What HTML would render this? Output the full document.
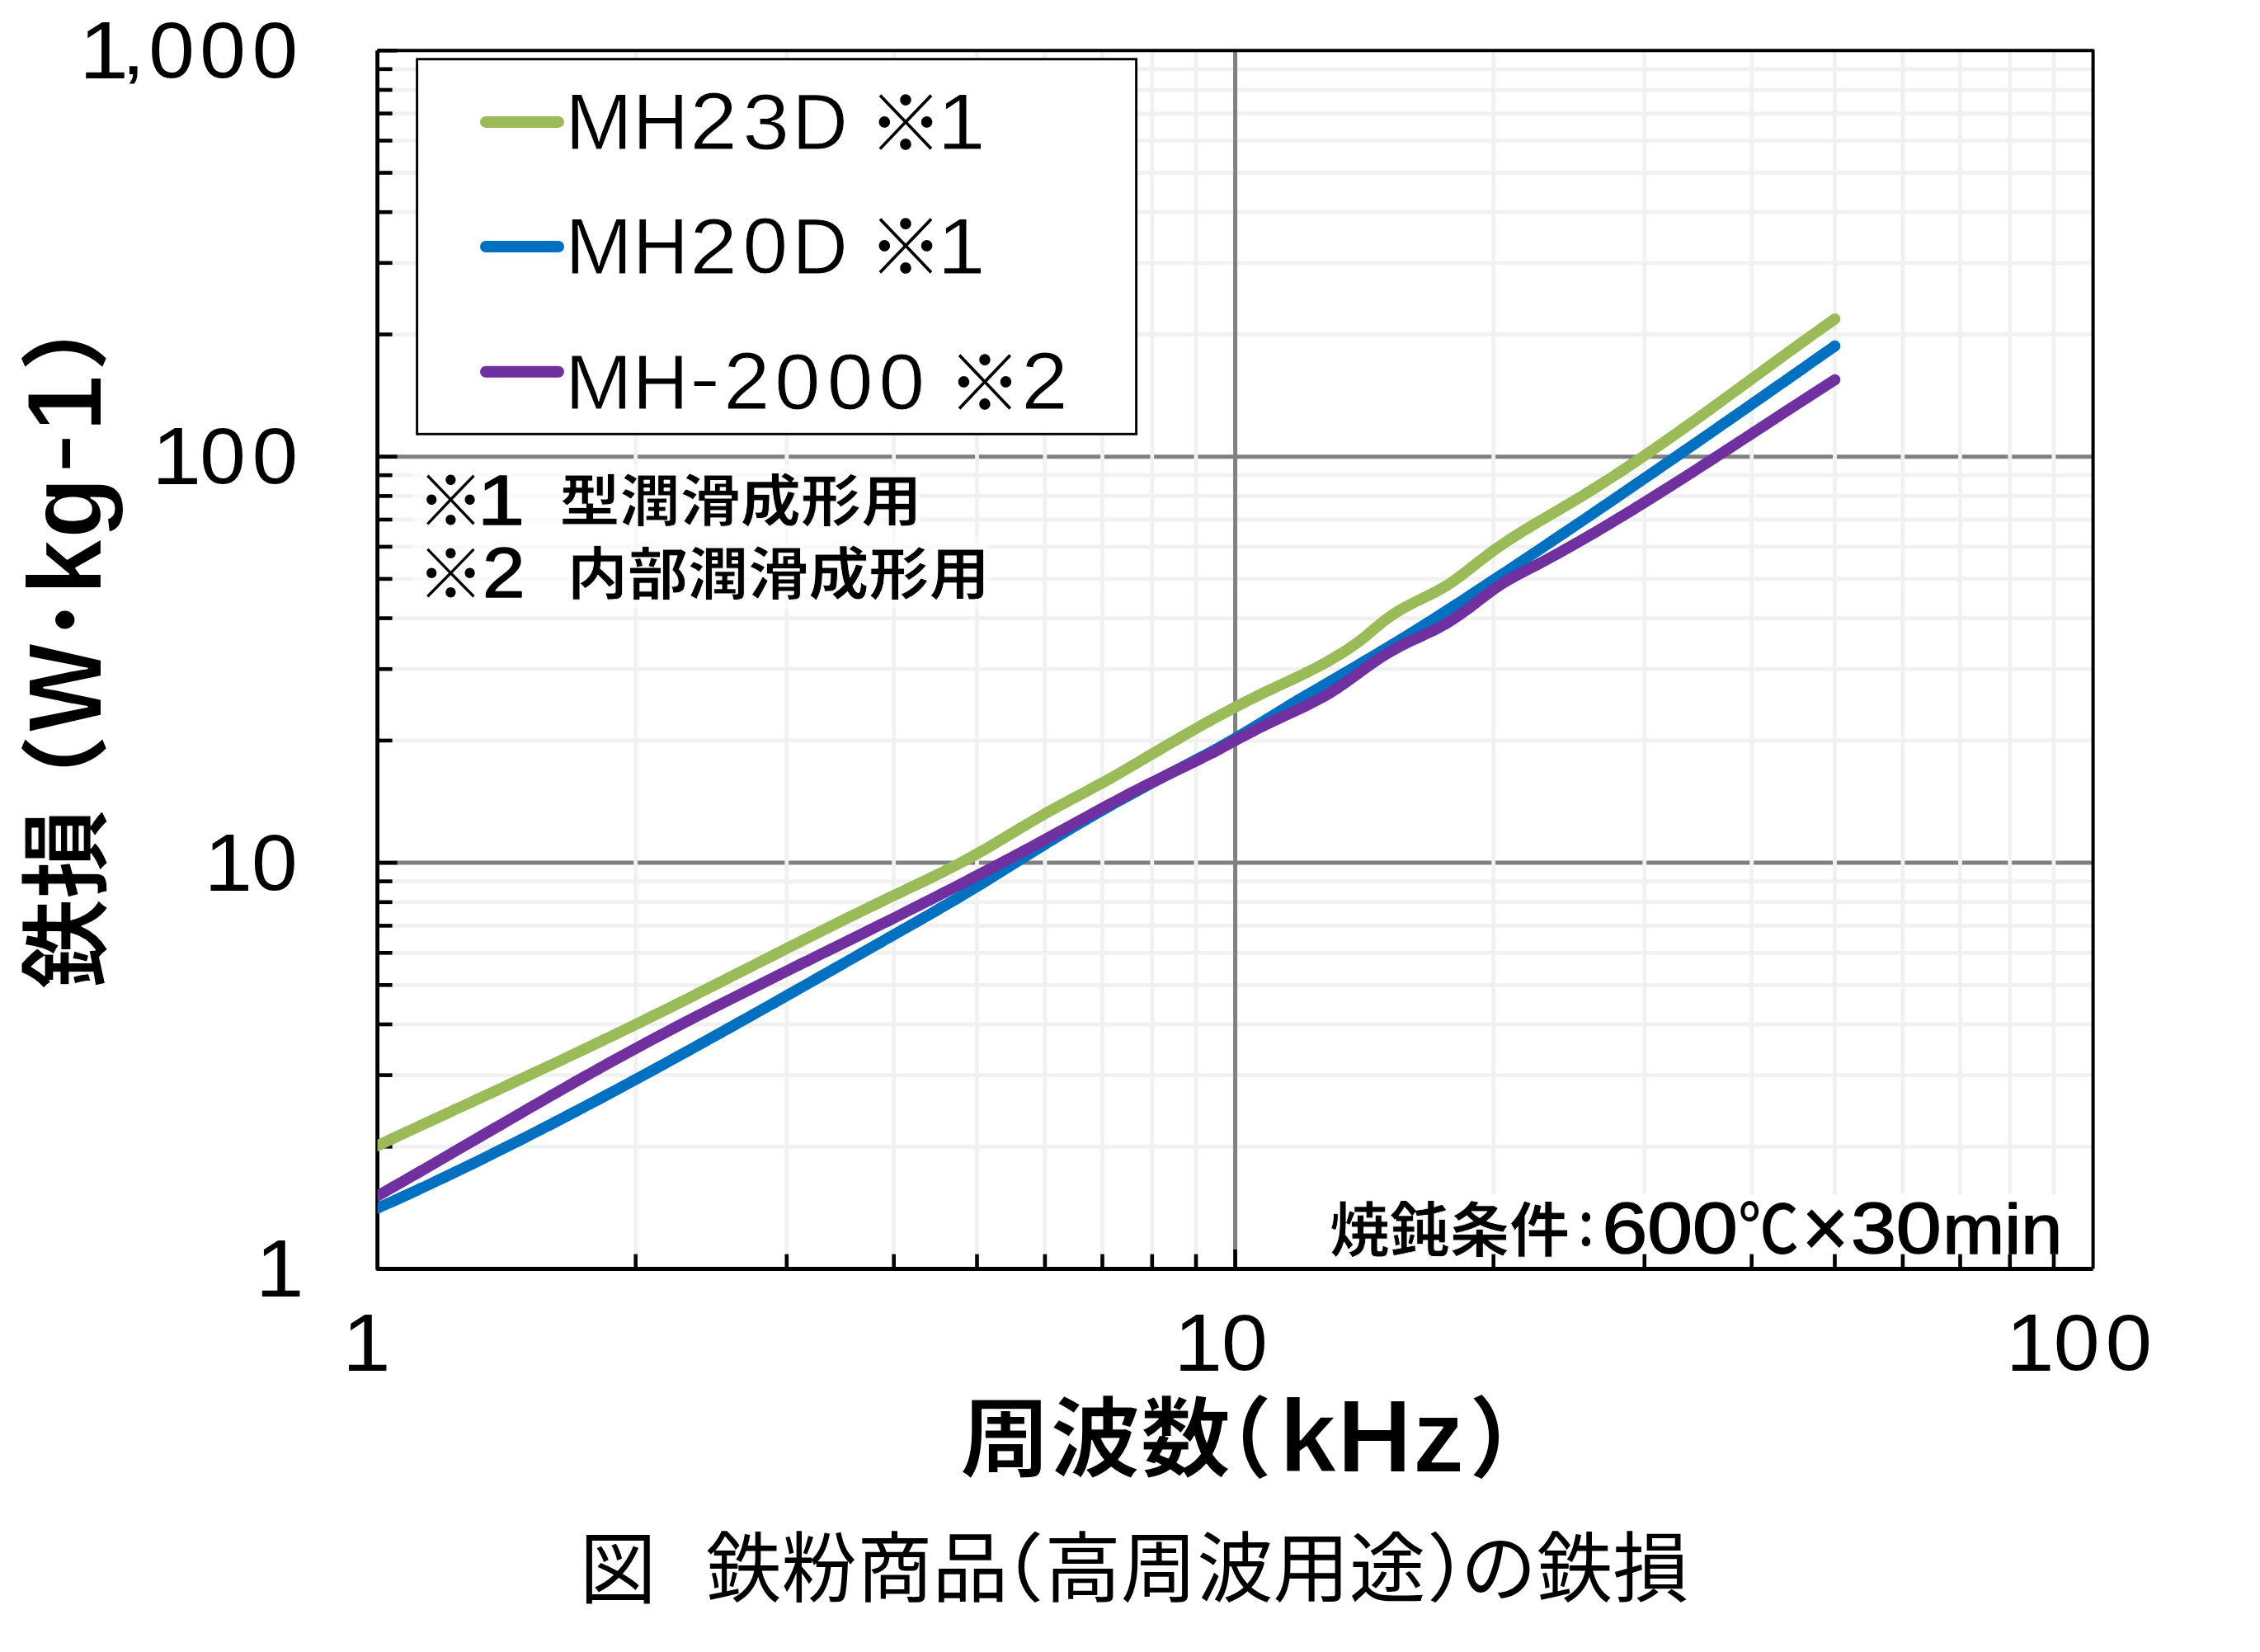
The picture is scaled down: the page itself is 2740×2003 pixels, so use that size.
<!DOCTYPE html>
<html lang="ja"><head><meta charset="utf-8"><title>図 鉄粉商品（高周波用途）の鉄損</title>
<style>html,body{margin:0;padding:0;background:#fff;}body{width:2740px;height:2003px;overflow:hidden;}svg{display:block;}</style>
</head><body>
<svg width="2740" height="2003" viewBox="0 0 2740 2003">
<rect width="2740" height="2003" fill="#fff"/>
<g id="grid"><line x1="457.6" x2="2537.6" y1="1046.1" y2="1046.1" stroke="#808080" stroke-width="5"/><line x1="457.6" x2="2537.6" y1="553.7" y2="553.7" stroke="#808080" stroke-width="5"/><line x1="457.6" x2="2537.6" y1="1390.3" y2="1390.3" stroke="#f1f1f1" stroke-width="4.8"/><line x1="457.6" x2="2537.6" y1="1303.6" y2="1303.6" stroke="#f1f1f1" stroke-width="4.8"/><line x1="457.6" x2="2537.6" y1="1242.0" y2="1242.0" stroke="#f1f1f1" stroke-width="4.8"/><line x1="457.6" x2="2537.6" y1="1194.3" y2="1194.3" stroke="#f1f1f1" stroke-width="4.8"/><line x1="457.6" x2="2537.6" y1="1155.3" y2="1155.3" stroke="#f1f1f1" stroke-width="4.8"/><line x1="457.6" x2="2537.6" y1="1122.4" y2="1122.4" stroke="#f1f1f1" stroke-width="4.8"/><line x1="457.6" x2="2537.6" y1="1093.8" y2="1093.8" stroke="#f1f1f1" stroke-width="4.8"/><line x1="457.6" x2="2537.6" y1="1068.6" y2="1068.6" stroke="#f1f1f1" stroke-width="4.8"/><line x1="457.6" x2="2537.6" y1="897.9" y2="897.9" stroke="#f1f1f1" stroke-width="4.8"/><line x1="457.6" x2="2537.6" y1="811.2" y2="811.2" stroke="#f1f1f1" stroke-width="4.8"/><line x1="457.6" x2="2537.6" y1="749.6" y2="749.6" stroke="#f1f1f1" stroke-width="4.8"/><line x1="457.6" x2="2537.6" y1="701.9" y2="701.9" stroke="#f1f1f1" stroke-width="4.8"/><line x1="457.6" x2="2537.6" y1="662.9" y2="662.9" stroke="#f1f1f1" stroke-width="4.8"/><line x1="457.6" x2="2537.6" y1="630.0" y2="630.0" stroke="#f1f1f1" stroke-width="4.8"/><line x1="457.6" x2="2537.6" y1="601.4" y2="601.4" stroke="#f1f1f1" stroke-width="4.8"/><line x1="457.6" x2="2537.6" y1="576.2" y2="576.2" stroke="#f1f1f1" stroke-width="4.8"/><line x1="457.6" x2="2537.6" y1="405.5" y2="405.5" stroke="#f1f1f1" stroke-width="4.8"/><line x1="457.6" x2="2537.6" y1="318.8" y2="318.8" stroke="#f1f1f1" stroke-width="4.8"/><line x1="457.6" x2="2537.6" y1="257.2" y2="257.2" stroke="#f1f1f1" stroke-width="4.8"/><line x1="457.6" x2="2537.6" y1="209.5" y2="209.5" stroke="#f1f1f1" stroke-width="4.8"/><line x1="457.6" x2="2537.6" y1="170.5" y2="170.5" stroke="#f1f1f1" stroke-width="4.8"/><line x1="457.6" x2="2537.6" y1="137.6" y2="137.6" stroke="#f1f1f1" stroke-width="4.8"/><line x1="457.6" x2="2537.6" y1="109.0" y2="109.0" stroke="#f1f1f1" stroke-width="4.8"/><line x1="457.6" x2="2537.6" y1="83.8" y2="83.8" stroke="#f1f1f1" stroke-width="4.8"/><line y1="61.30000000000018" y2="1538.5" x1="770.7" x2="770.7" stroke="#f1f1f1" stroke-width="4.8"/><line y1="61.30000000000018" y2="1538.5" x1="953.8" x2="953.8" stroke="#f1f1f1" stroke-width="4.8"/><line y1="61.30000000000018" y2="1538.5" x1="1083.7" x2="1083.7" stroke="#f1f1f1" stroke-width="4.8"/><line y1="61.30000000000018" y2="1538.5" x1="1184.5" x2="1184.5" stroke="#f1f1f1" stroke-width="4.8"/><line y1="61.30000000000018" y2="1538.5" x1="1266.9" x2="1266.9" stroke="#f1f1f1" stroke-width="4.8"/><line y1="61.30000000000018" y2="1538.5" x1="1336.5" x2="1336.5" stroke="#f1f1f1" stroke-width="4.8"/><line y1="61.30000000000018" y2="1538.5" x1="1396.8" x2="1396.8" stroke="#f1f1f1" stroke-width="4.8"/><line y1="61.30000000000018" y2="1538.5" x1="1450.0" x2="1450.0" stroke="#f1f1f1" stroke-width="4.8"/><line y1="61.30000000000018" y2="1538.5" x1="1810.7" x2="1810.7" stroke="#f1f1f1" stroke-width="4.8"/><line y1="61.30000000000018" y2="1538.5" x1="1993.8" x2="1993.8" stroke="#f1f1f1" stroke-width="4.8"/><line y1="61.30000000000018" y2="1538.5" x1="2123.7" x2="2123.7" stroke="#f1f1f1" stroke-width="4.8"/><line y1="61.30000000000018" y2="1538.5" x1="2224.5" x2="2224.5" stroke="#f1f1f1" stroke-width="4.8"/><line y1="61.30000000000018" y2="1538.5" x1="2306.9" x2="2306.9" stroke="#f1f1f1" stroke-width="4.8"/><line y1="61.30000000000018" y2="1538.5" x1="2376.5" x2="2376.5" stroke="#f1f1f1" stroke-width="4.8"/><line y1="61.30000000000018" y2="1538.5" x1="2436.8" x2="2436.8" stroke="#f1f1f1" stroke-width="4.8"/><line y1="61.30000000000018" y2="1538.5" x1="2490.0" x2="2490.0" stroke="#f1f1f1" stroke-width="4.8"/><line y1="61.30000000000018" y2="1538.5" x1="1497.6" x2="1497.6" stroke="#808080" stroke-width="5"/></g>
<rect x="1596" y="1448" width="939" height="88" fill="#fff" opacity="0.9"/><rect x="500" y="563" width="616" height="88" fill="#fff" opacity="0.6"/><rect x="500" y="651" width="700" height="87" fill="#fff" opacity="0.6"/>
<clipPath id="cp"><rect x="457.6" y="61.30000000000018" width="2080.0" height="1477.1999999999998"/></clipPath>
<path d="M457.6,61.30000000000018 H2537.6 V1538.5" fill="none" stroke="#000" stroke-width="4" stroke-linejoin="round"/><path d="M457.6,61.30000000000018 V1538.5 H2537.6" fill="none" stroke="#000" stroke-width="4.8" stroke-linejoin="round"/>
<g stroke="#000" stroke-width="4.6"><line x1="457.6" x2="475.6" y1="1390.3" y2="1390.3"/><line x1="457.6" x2="475.6" y1="1303.6" y2="1303.6"/><line x1="457.6" x2="475.6" y1="1242.0" y2="1242.0"/><line x1="457.6" x2="475.6" y1="1194.3" y2="1194.3"/><line x1="457.6" x2="475.6" y1="1155.3" y2="1155.3"/><line x1="457.6" x2="475.6" y1="1122.4" y2="1122.4"/><line x1="457.6" x2="475.6" y1="1093.8" y2="1093.8"/><line x1="457.6" x2="475.6" y1="1068.6" y2="1068.6"/><line x1="457.6" x2="481.6" y1="1046.1" y2="1046.1"/><line x1="457.6" x2="475.6" y1="897.9" y2="897.9"/><line x1="457.6" x2="475.6" y1="811.2" y2="811.2"/><line x1="457.6" x2="475.6" y1="749.6" y2="749.6"/><line x1="457.6" x2="475.6" y1="701.9" y2="701.9"/><line x1="457.6" x2="475.6" y1="662.9" y2="662.9"/><line x1="457.6" x2="475.6" y1="630.0" y2="630.0"/><line x1="457.6" x2="475.6" y1="601.4" y2="601.4"/><line x1="457.6" x2="475.6" y1="576.2" y2="576.2"/><line x1="457.6" x2="481.6" y1="553.7" y2="553.7"/><line x1="457.6" x2="475.6" y1="405.5" y2="405.5"/><line x1="457.6" x2="475.6" y1="318.8" y2="318.8"/><line x1="457.6" x2="475.6" y1="257.2" y2="257.2"/><line x1="457.6" x2="475.6" y1="209.5" y2="209.5"/><line x1="457.6" x2="475.6" y1="170.5" y2="170.5"/><line x1="457.6" x2="475.6" y1="137.6" y2="137.6"/><line x1="457.6" x2="475.6" y1="109.0" y2="109.0"/><line x1="457.6" x2="475.6" y1="83.8" y2="83.8"/><line x1="457.6" x2="481.6" y1="61.3" y2="61.3"/><line y1="1538.5" y2="1520.6" x1="770.7" x2="770.7"/><line y1="1538.5" y2="1520.6" x1="953.8" x2="953.8"/><line y1="1538.5" y2="1520.6" x1="1083.7" x2="1083.7"/><line y1="1538.5" y2="1520.6" x1="1184.5" x2="1184.5"/><line y1="1538.5" y2="1520.6" x1="1266.9" x2="1266.9"/><line y1="1538.5" y2="1520.6" x1="1336.5" x2="1336.5"/><line y1="1538.5" y2="1520.6" x1="1396.8" x2="1396.8"/><line y1="1538.5" y2="1520.6" x1="1450.0" x2="1450.0"/><line y1="1538.5" y2="1515.0" x1="1497.6" x2="1497.6"/><line y1="1538.5" y2="1520.6" x1="1810.7" x2="1810.7"/><line y1="1538.5" y2="1520.6" x1="1993.8" x2="1993.8"/><line y1="1538.5" y2="1520.6" x1="2123.7" x2="2123.7"/><line y1="1538.5" y2="1520.6" x1="2224.5" x2="2224.5"/><line y1="1538.5" y2="1520.6" x1="2306.9" x2="2306.9"/><line y1="1538.5" y2="1520.6" x1="2376.5" x2="2376.5"/><line y1="1538.5" y2="1520.6" x1="2436.8" x2="2436.8"/><line y1="1538.5" y2="1520.6" x1="2490.0" x2="2490.0"/></g>
<g fill="none" stroke-width="13.4" stroke-linecap="round" stroke-linejoin="round" clip-path="url(#cp)"><path d="M457.6,1389.1 C459.6,1388.2 465.6,1385.4 469.6,1383.5 C473.6,1381.7 477.6,1379.8 481.6,1377.9 C485.6,1376.1 489.6,1374.2 493.6,1372.3 C497.6,1370.5 501.6,1368.6 505.6,1366.7 C509.6,1364.9 513.6,1363.0 517.6,1361.2 C521.6,1359.3 525.6,1357.5 529.6,1355.6 C533.6,1353.8 537.6,1351.9 541.6,1350.1 C545.6,1348.2 549.6,1346.4 553.6,1344.5 C557.6,1342.7 561.6,1340.8 565.6,1339.0 C569.6,1337.1 573.6,1335.3 577.6,1333.4 C581.6,1331.5 585.6,1329.7 589.6,1327.8 C593.6,1326.0 597.6,1324.1 601.6,1322.3 C605.6,1320.4 609.6,1318.6 613.6,1316.7 C617.6,1314.9 621.6,1313.0 625.6,1311.1 C629.6,1309.3 633.6,1307.4 637.6,1305.5 C641.6,1303.7 645.6,1301.8 649.6,1299.9 C653.6,1298.1 657.6,1296.2 661.6,1294.3 C665.6,1292.4 669.6,1290.6 673.6,1288.7 C677.6,1286.8 681.6,1284.9 685.6,1283.0 C689.6,1281.1 693.6,1279.2 697.6,1277.3 C701.6,1275.4 705.6,1273.5 709.6,1271.6 C713.6,1269.7 717.6,1267.8 721.6,1265.9 C725.6,1264.0 729.6,1262.1 733.6,1260.1 C737.6,1258.2 741.6,1256.3 745.6,1254.4 C749.6,1252.4 753.6,1250.5 757.6,1248.5 C761.6,1246.6 765.6,1244.6 769.6,1242.7 C773.6,1240.7 777.6,1238.8 781.6,1236.8 C785.6,1234.8 789.6,1232.8 793.6,1230.9 C797.6,1228.9 801.6,1226.9 805.6,1224.9 C809.6,1222.9 813.6,1220.9 817.6,1218.9 C821.6,1216.9 825.6,1214.9 829.6,1212.9 C833.6,1210.9 837.6,1208.9 841.6,1206.9 C845.6,1204.8 849.6,1202.8 853.6,1200.8 C857.6,1198.8 861.6,1196.8 865.6,1194.7 C869.6,1192.7 873.6,1190.7 877.6,1188.7 C881.6,1186.6 885.6,1184.6 889.6,1182.6 C893.6,1180.6 897.6,1178.5 901.6,1176.5 C905.6,1174.5 909.6,1172.4 913.6,1170.4 C917.6,1168.4 921.6,1166.3 925.6,1164.3 C929.6,1162.3 933.6,1160.3 937.6,1158.2 C941.6,1156.2 945.6,1154.2 949.6,1152.2 C953.6,1150.1 957.6,1148.1 961.6,1146.1 C965.6,1144.1 969.6,1142.0 973.6,1140.0 C977.6,1138.0 981.6,1136.0 985.6,1134.0 C989.6,1132.0 993.6,1130.0 997.6,1128.0 C1001.6,1126.0 1005.6,1124.0 1009.6,1122.0 C1013.6,1120.0 1017.6,1118.0 1021.6,1116.0 C1025.6,1114.1 1029.6,1112.1 1033.6,1110.1 C1037.6,1108.1 1041.6,1106.2 1045.6,1104.2 C1049.6,1102.3 1053.6,1100.3 1057.6,1098.4 C1061.6,1096.4 1065.6,1094.5 1069.6,1092.6 C1073.6,1090.6 1077.6,1088.7 1081.6,1086.8 C1085.6,1084.9 1089.6,1083.0 1093.6,1081.1 C1097.6,1079.1 1101.6,1077.2 1105.6,1075.3 C1109.6,1073.4 1113.6,1071.5 1117.6,1069.6 C1121.6,1067.7 1125.6,1065.8 1129.6,1063.8 C1133.6,1061.8 1137.6,1059.9 1141.6,1057.9 C1145.6,1055.9 1149.6,1053.9 1153.6,1051.8 C1157.6,1049.8 1161.6,1047.7 1165.6,1045.6 C1169.6,1043.5 1173.6,1041.3 1177.6,1039.1 C1181.6,1036.9 1185.6,1034.7 1189.6,1032.4 C1193.6,1030.1 1197.6,1027.8 1201.6,1025.4 C1205.6,1023.1 1209.6,1020.7 1213.6,1018.3 C1217.6,1015.9 1221.6,1013.5 1225.6,1011.1 C1229.6,1008.7 1233.6,1006.2 1237.6,1003.8 C1241.6,1001.4 1245.6,999.0 1249.6,996.7 C1253.6,994.3 1257.6,992.0 1261.6,989.7 C1265.6,987.4 1269.6,985.1 1273.6,982.9 C1277.6,980.7 1281.6,978.5 1285.6,976.3 C1289.6,974.2 1293.6,972.1 1297.6,969.9 C1301.6,967.8 1305.6,965.7 1309.6,963.6 C1313.6,961.5 1317.6,959.4 1321.6,957.2 C1325.6,955.1 1329.6,952.9 1333.6,950.7 C1337.6,948.6 1341.6,946.3 1345.6,944.1 C1349.6,941.8 1353.6,939.5 1357.6,937.2 C1361.6,934.9 1365.6,932.6 1369.6,930.3 C1373.6,927.9 1377.6,925.6 1381.6,923.2 C1385.6,920.9 1389.6,918.5 1393.6,916.1 C1397.6,913.8 1401.6,911.4 1405.6,909.1 C1409.6,906.7 1413.6,904.4 1417.6,902.0 C1421.6,899.7 1425.6,897.4 1429.6,895.1 C1433.6,892.7 1437.6,890.4 1441.6,888.2 C1445.6,885.9 1449.6,883.6 1453.6,881.3 C1457.6,879.1 1461.6,876.8 1465.6,874.6 C1469.6,872.4 1473.6,870.2 1477.6,868.0 C1481.6,865.9 1485.6,863.7 1489.6,861.6 C1493.6,859.5 1497.6,857.4 1501.6,855.3 C1505.6,853.2 1509.6,851.2 1513.6,849.1 C1517.6,847.1 1521.6,845.2 1525.6,843.2 C1529.6,841.3 1533.6,839.3 1537.6,837.4 C1541.6,835.5 1545.6,833.7 1549.6,831.8 C1553.6,829.9 1557.6,828.1 1561.6,826.2 C1565.6,824.3 1569.6,822.5 1573.6,820.5 C1577.6,818.6 1581.6,816.7 1585.6,814.7 C1589.6,812.7 1593.6,810.7 1597.6,808.6 C1601.6,806.5 1605.6,804.3 1609.6,802.1 C1613.6,799.8 1617.6,797.5 1621.6,795.1 C1625.6,792.7 1629.6,790.2 1633.6,787.6 C1637.6,784.9 1641.6,782.2 1645.6,779.2 C1649.6,776.3 1653.6,773.1 1657.6,769.9 C1661.6,766.6 1665.6,763.0 1669.6,759.7 C1673.6,756.4 1677.6,753.0 1681.6,750.1 C1685.6,747.2 1689.6,744.5 1693.6,742.0 C1697.6,739.5 1701.6,737.3 1705.6,735.1 C1709.6,732.9 1713.6,731.0 1717.6,728.9 C1721.6,726.9 1725.6,725.1 1729.6,723.1 C1733.6,721.1 1737.6,719.1 1741.6,717.0 C1745.6,714.8 1749.6,712.6 1753.6,710.2 C1757.6,707.7 1761.6,705.0 1765.6,702.1 C1769.6,699.3 1773.6,696.1 1777.6,693.0 C1781.6,690.0 1785.6,686.7 1789.6,683.5 C1793.6,680.4 1797.6,677.3 1801.6,674.3 C1805.6,671.3 1809.6,668.4 1813.6,665.5 C1817.6,662.7 1821.6,660.0 1825.6,657.3 C1829.6,654.6 1833.6,652.0 1837.6,649.5 C1841.6,646.9 1845.6,644.4 1849.6,642.0 C1853.6,639.5 1857.6,637.1 1861.6,634.7 C1865.6,632.4 1869.6,630.0 1873.6,627.7 C1877.6,625.3 1881.6,623.0 1885.6,620.7 C1889.6,618.3 1893.6,616.0 1897.6,613.6 C1901.6,611.3 1905.6,608.9 1909.6,606.5 C1913.6,604.1 1917.6,601.7 1921.6,599.3 C1925.6,596.8 1929.6,594.3 1933.6,591.8 C1937.6,589.3 1941.6,586.8 1945.6,584.2 C1949.6,581.7 1953.6,579.1 1957.6,576.5 C1961.6,573.9 1965.6,571.3 1969.6,568.6 C1973.6,566.0 1977.6,563.3 1981.6,560.6 C1985.6,557.9 1989.6,555.2 1993.6,552.5 C1997.6,549.8 2001.6,547.0 2005.6,544.3 C2009.6,541.5 2013.6,538.7 2017.6,535.9 C2021.6,533.1 2025.6,530.3 2029.6,527.5 C2033.6,524.7 2037.6,521.9 2041.6,519.0 C2045.6,516.2 2049.6,513.3 2053.6,510.5 C2057.6,507.6 2061.6,504.7 2065.6,501.8 C2069.6,498.9 2073.6,496.1 2077.6,493.2 C2081.6,490.3 2085.6,487.4 2089.6,484.4 C2093.6,481.5 2097.6,478.6 2101.6,475.7 C2105.6,472.8 2109.6,469.9 2113.6,466.9 C2117.6,464.0 2121.6,461.1 2125.6,458.2 C2129.6,455.2 2133.6,452.3 2137.6,449.4 C2141.6,446.5 2145.6,443.6 2149.6,440.6 C2153.6,437.7 2157.6,434.8 2161.6,431.9 C2165.6,429.0 2169.6,426.1 2173.6,423.2 C2177.6,420.3 2181.6,417.4 2185.6,414.5 C2189.6,411.6 2193.6,408.8 2197.6,405.9 C2201.6,403.0 2205.6,400.2 2209.6,397.3 C2213.6,394.5 2219.1,390.6 2221.6,388.8 C2224.1,387.1 2224.1,387.1 2224.6,386.7" stroke="#9bbb59"/><path d="M457.6,1464.9 C459.6,1464.0 465.6,1461.3 469.6,1459.5 C473.6,1457.7 477.6,1455.9 481.6,1454.1 C485.6,1452.3 489.6,1450.5 493.6,1448.6 C497.6,1446.8 501.6,1444.9 505.6,1443.1 C509.6,1441.2 513.6,1439.3 517.6,1437.5 C521.6,1435.6 525.6,1433.7 529.6,1431.8 C533.6,1429.9 537.6,1428.0 541.6,1426.1 C545.6,1424.2 549.6,1422.3 553.6,1420.3 C557.6,1418.4 561.6,1416.5 565.6,1414.5 C569.6,1412.6 573.6,1410.6 577.6,1408.7 C581.6,1406.7 585.6,1404.8 589.6,1402.8 C593.6,1400.8 597.6,1398.8 601.6,1396.8 C605.6,1394.8 609.6,1392.8 613.6,1390.8 C617.6,1388.8 621.6,1386.8 625.6,1384.8 C629.6,1382.8 633.6,1380.8 637.6,1378.7 C641.6,1376.7 645.6,1374.6 649.6,1372.6 C653.6,1370.5 657.6,1368.5 661.6,1366.4 C665.6,1364.4 669.6,1362.3 673.6,1360.2 C677.6,1358.2 681.6,1356.1 685.6,1354.0 C689.6,1351.9 693.6,1349.8 697.6,1347.7 C701.6,1345.6 705.6,1343.5 709.6,1341.4 C713.6,1339.3 717.6,1337.2 721.6,1335.1 C725.6,1332.9 729.6,1330.8 733.6,1328.7 C737.6,1326.6 741.6,1324.4 745.6,1322.3 C749.6,1320.1 753.6,1318.0 757.6,1315.8 C761.6,1313.7 765.6,1311.5 769.6,1309.4 C773.6,1307.2 777.6,1305.0 781.6,1302.9 C785.6,1300.7 789.6,1298.5 793.6,1296.3 C797.6,1294.2 801.6,1292.0 805.6,1289.8 C809.6,1287.6 813.6,1285.4 817.6,1283.2 C821.6,1281.0 825.6,1278.8 829.6,1276.6 C833.6,1274.4 837.6,1272.2 841.6,1270.0 C845.6,1267.8 849.6,1265.6 853.6,1263.4 C857.6,1261.1 861.6,1258.9 865.6,1256.7 C869.6,1254.5 873.6,1252.2 877.6,1250.0 C881.6,1247.8 885.6,1245.5 889.6,1243.3 C893.6,1241.1 897.6,1238.8 901.6,1236.6 C905.6,1234.4 909.6,1232.1 913.6,1229.9 C917.6,1227.6 921.6,1225.4 925.6,1223.1 C929.6,1220.9 933.6,1218.6 937.6,1216.4 C941.6,1214.1 945.6,1211.8 949.6,1209.6 C953.6,1207.3 957.6,1205.1 961.6,1202.8 C965.6,1200.5 969.6,1198.3 973.6,1196.0 C977.6,1193.8 981.6,1191.5 985.6,1189.2 C989.6,1187.0 993.6,1184.7 997.6,1182.4 C1001.6,1180.1 1005.6,1177.9 1009.6,1175.6 C1013.6,1173.3 1017.6,1171.1 1021.6,1168.8 C1025.6,1166.5 1029.6,1164.2 1033.6,1162.0 C1037.6,1159.7 1041.6,1157.4 1045.6,1155.1 C1049.6,1152.9 1053.6,1150.6 1057.6,1148.3 C1061.6,1146.0 1065.6,1143.8 1069.6,1141.5 C1073.6,1139.2 1077.6,1136.9 1081.6,1134.7 C1085.6,1132.4 1089.6,1130.1 1093.6,1127.8 C1097.6,1125.6 1101.6,1123.3 1105.6,1121.0 C1109.6,1118.7 1113.6,1116.5 1117.6,1114.2 C1121.6,1111.9 1125.6,1109.6 1129.6,1107.3 C1133.6,1105.0 1137.6,1102.7 1141.6,1100.3 C1145.6,1098.0 1149.6,1095.7 1153.6,1093.3 C1157.6,1091.0 1161.6,1088.6 1165.6,1086.2 C1169.6,1083.9 1173.6,1081.5 1177.6,1079.1 C1181.6,1076.6 1185.6,1074.2 1189.6,1071.8 C1193.6,1069.3 1197.6,1066.9 1201.6,1064.4 C1205.6,1061.9 1209.6,1059.4 1213.6,1056.9 C1217.6,1054.4 1221.6,1051.9 1225.6,1049.4 C1229.6,1046.9 1233.6,1044.4 1237.6,1041.9 C1241.6,1039.4 1245.6,1036.9 1249.6,1034.4 C1253.6,1031.9 1257.6,1029.4 1261.6,1027.0 C1265.6,1024.5 1269.6,1022.0 1273.6,1019.6 C1277.6,1017.1 1281.6,1014.7 1285.6,1012.3 C1289.6,1009.9 1293.6,1007.5 1297.6,1005.1 C1301.6,1002.7 1305.6,1000.3 1309.6,998.0 C1313.6,995.6 1317.6,993.3 1321.6,991.0 C1325.6,988.6 1329.6,986.3 1333.6,984.0 C1337.6,981.7 1341.6,979.5 1345.6,977.2 C1349.6,974.9 1353.6,972.7 1357.6,970.5 C1361.6,968.2 1365.6,966.0 1369.6,963.8 C1373.6,961.6 1377.6,959.4 1381.6,957.3 C1385.6,955.1 1389.6,953.0 1393.6,950.8 C1397.6,948.7 1401.6,946.6 1405.6,944.5 C1409.6,942.4 1413.6,940.3 1417.6,938.2 C1421.6,936.1 1425.6,934.1 1429.6,932.0 C1433.6,929.9 1437.6,927.8 1441.6,925.7 C1445.6,923.7 1449.6,921.6 1453.6,919.4 C1457.6,917.3 1461.6,915.2 1465.6,913.0 C1469.6,910.9 1473.6,908.7 1477.6,906.5 C1481.6,904.3 1485.6,902.1 1489.6,899.8 C1493.6,897.5 1497.6,895.2 1501.6,892.9 C1505.6,890.5 1509.6,888.1 1513.6,885.7 C1517.6,883.3 1521.6,880.8 1525.6,878.4 C1529.6,875.9 1533.6,873.5 1537.6,871.0 C1541.6,868.6 1545.6,866.1 1549.6,863.6 C1553.6,861.2 1557.6,858.7 1561.6,856.3 C1565.6,853.9 1569.6,851.5 1573.6,849.1 C1577.6,846.7 1581.6,844.4 1585.6,842.0 C1589.6,839.7 1593.6,837.3 1597.6,835.0 C1601.6,832.6 1605.6,830.3 1609.6,828.0 C1613.6,825.6 1617.6,823.3 1621.6,821.0 C1625.6,818.6 1629.6,816.3 1633.6,814.0 C1637.6,811.6 1641.6,809.3 1645.6,806.9 C1649.6,804.6 1653.6,802.2 1657.6,799.8 C1661.6,797.5 1665.6,795.1 1669.6,792.7 C1673.6,790.3 1677.6,787.9 1681.6,785.5 C1685.6,783.1 1689.6,780.7 1693.6,778.2 C1697.6,775.8 1701.6,773.4 1705.6,770.9 C1709.6,768.4 1713.6,766.0 1717.6,763.5 C1721.6,761.0 1725.6,758.5 1729.6,755.9 C1733.6,753.4 1737.6,750.9 1741.6,748.3 C1745.6,745.8 1749.6,743.2 1753.6,740.6 C1757.6,738.1 1761.6,735.5 1765.6,732.9 C1769.6,730.3 1773.6,727.7 1777.6,725.1 C1781.6,722.5 1785.6,719.8 1789.6,717.2 C1793.6,714.6 1797.6,712.0 1801.6,709.3 C1805.6,706.7 1809.6,704.1 1813.6,701.4 C1817.6,698.8 1821.6,696.1 1825.6,693.5 C1829.6,690.8 1833.6,688.2 1837.6,685.5 C1841.6,682.9 1845.6,680.2 1849.6,677.5 C1853.6,674.9 1857.6,672.2 1861.6,669.5 C1865.6,666.9 1869.6,664.2 1873.6,661.5 C1877.6,658.8 1881.6,656.1 1885.6,653.4 C1889.6,650.8 1893.6,648.1 1897.6,645.4 C1901.6,642.7 1905.6,640.0 1909.6,637.3 C1913.6,634.6 1917.6,631.9 1921.6,629.2 C1925.6,626.5 1929.6,623.8 1933.6,621.0 C1937.6,618.3 1941.6,615.6 1945.6,612.9 C1949.6,610.2 1953.6,607.5 1957.6,604.7 C1961.6,602.0 1965.6,599.3 1969.6,596.5 C1973.6,593.8 1977.6,591.1 1981.6,588.3 C1985.6,585.6 1989.6,582.9 1993.6,580.1 C1997.6,577.4 2001.6,574.6 2005.6,571.9 C2009.6,569.1 2013.6,566.4 2017.6,563.6 C2021.6,560.9 2025.6,558.1 2029.6,555.4 C2033.6,552.6 2037.6,549.9 2041.6,547.1 C2045.6,544.3 2049.6,541.6 2053.6,538.8 C2057.6,536.0 2061.6,533.3 2065.6,530.5 C2069.6,527.7 2073.6,524.9 2077.6,522.2 C2081.6,519.4 2085.6,516.6 2089.6,513.8 C2093.6,511.1 2097.6,508.3 2101.6,505.5 C2105.6,502.7 2109.6,499.9 2113.6,497.2 C2117.6,494.4 2121.6,491.6 2125.6,488.8 C2129.6,486.0 2133.6,483.2 2137.6,480.4 C2141.6,477.6 2145.6,474.8 2149.6,472.0 C2153.6,469.2 2157.6,466.5 2161.6,463.7 C2165.6,460.9 2169.6,458.1 2173.6,455.3 C2177.6,452.5 2181.6,449.7 2185.6,446.9 C2189.6,444.1 2193.6,441.2 2197.6,438.4 C2201.6,435.6 2205.6,432.8 2209.6,430.0 C2213.6,427.2 2219.1,423.4 2221.6,421.6 C2224.1,419.9 2224.1,419.9 2224.6,419.5" stroke="#0070c0"/><path d="M457.6,1450.0 C459.6,1448.9 465.6,1445.5 469.6,1443.2 C473.6,1440.9 477.6,1438.6 481.6,1436.4 C485.6,1434.1 489.6,1431.8 493.6,1429.5 C497.6,1427.2 501.6,1424.9 505.6,1422.6 C509.6,1420.3 513.6,1418.0 517.6,1415.7 C521.6,1413.4 525.6,1411.0 529.6,1408.7 C533.6,1406.4 537.6,1404.1 541.6,1401.8 C545.6,1399.5 549.6,1397.1 553.6,1394.8 C557.6,1392.5 561.6,1390.2 565.6,1387.8 C569.6,1385.5 573.6,1383.2 577.6,1380.9 C581.6,1378.5 585.6,1376.2 589.6,1373.9 C593.6,1371.6 597.6,1369.2 601.6,1366.9 C605.6,1364.6 609.6,1362.3 613.6,1359.9 C617.6,1357.6 621.6,1355.3 625.6,1353.0 C629.6,1350.7 633.6,1348.4 637.6,1346.0 C641.6,1343.7 645.6,1341.4 649.6,1339.1 C653.6,1336.8 657.6,1334.5 661.6,1332.2 C665.6,1329.9 669.6,1327.6 673.6,1325.4 C677.6,1323.1 681.6,1320.8 685.6,1318.5 C689.6,1316.2 693.6,1314.0 697.6,1311.7 C701.6,1309.5 705.6,1307.2 709.6,1304.9 C713.6,1302.7 717.6,1300.5 721.6,1298.2 C725.6,1296.0 729.6,1293.8 733.6,1291.5 C737.6,1289.3 741.6,1287.1 745.6,1284.9 C749.6,1282.7 753.6,1280.5 757.6,1278.3 C761.6,1276.1 765.6,1274.0 769.6,1271.8 C773.6,1269.6 777.6,1267.5 781.6,1265.3 C785.6,1263.2 789.6,1261.1 793.6,1258.9 C797.6,1256.8 801.6,1254.7 805.6,1252.6 C809.6,1250.5 813.6,1248.4 817.6,1246.3 C821.6,1244.2 825.6,1242.1 829.6,1240.0 C833.6,1238.0 837.6,1235.9 841.6,1233.8 C845.6,1231.8 849.6,1229.7 853.6,1227.7 C857.6,1225.6 861.6,1223.6 865.6,1221.5 C869.6,1219.5 873.6,1217.5 877.6,1215.5 C881.6,1213.4 885.6,1211.4 889.6,1209.4 C893.6,1207.4 897.6,1205.4 901.6,1203.4 C905.6,1201.4 909.6,1199.4 913.6,1197.4 C917.6,1195.4 921.6,1193.4 925.6,1191.4 C929.6,1189.4 933.6,1187.4 937.6,1185.4 C941.6,1183.4 945.6,1181.4 949.6,1179.5 C953.6,1177.5 957.6,1175.5 961.6,1173.5 C965.6,1171.6 969.6,1169.6 973.6,1167.6 C977.6,1165.6 981.6,1163.7 985.6,1161.7 C989.6,1159.7 993.6,1157.7 997.6,1155.8 C1001.6,1153.8 1005.6,1151.8 1009.6,1149.9 C1013.6,1147.9 1017.6,1145.9 1021.6,1143.9 C1025.6,1142.0 1029.6,1140.0 1033.6,1138.0 C1037.6,1136.0 1041.6,1134.0 1045.6,1132.1 C1049.6,1130.1 1053.6,1128.1 1057.6,1126.1 C1061.6,1124.1 1065.6,1122.1 1069.6,1120.1 C1073.6,1118.2 1077.6,1116.2 1081.6,1114.2 C1085.6,1112.2 1089.6,1110.2 1093.6,1108.1 C1097.6,1106.1 1101.6,1104.1 1105.6,1102.1 C1109.6,1100.1 1113.6,1098.1 1117.6,1096.0 C1121.6,1094.0 1125.6,1092.0 1129.6,1090.0 C1133.6,1087.9 1137.6,1085.9 1141.6,1083.8 C1145.6,1081.8 1149.6,1079.7 1153.6,1077.7 C1157.6,1075.6 1161.6,1073.6 1165.6,1071.5 C1169.6,1069.4 1173.6,1067.4 1177.6,1065.3 C1181.6,1063.2 1185.6,1061.1 1189.6,1059.0 C1193.6,1057.0 1197.6,1054.9 1201.6,1052.8 C1205.6,1050.7 1209.6,1048.6 1213.6,1046.4 C1217.6,1044.3 1221.6,1042.2 1225.6,1040.1 C1229.6,1038.0 1233.6,1035.8 1237.6,1033.7 C1241.6,1031.6 1245.6,1029.4 1249.6,1027.3 C1253.6,1025.1 1257.6,1022.9 1261.6,1020.8 C1265.6,1018.6 1269.6,1016.4 1273.6,1014.2 C1277.6,1012.1 1281.6,1009.9 1285.6,1007.7 C1289.6,1005.5 1293.6,1003.3 1297.6,1001.1 C1301.6,998.9 1305.6,996.7 1309.6,994.5 C1313.6,992.4 1317.6,990.2 1321.6,988.0 C1325.6,985.8 1329.6,983.6 1333.6,981.5 C1337.6,979.3 1341.6,977.2 1345.6,975.0 C1349.6,972.9 1353.6,970.7 1357.6,968.6 C1361.6,966.5 1365.6,964.4 1369.6,962.3 C1373.6,960.3 1377.6,958.2 1381.6,956.2 C1385.6,954.1 1389.6,952.1 1393.6,950.1 C1397.6,948.1 1401.6,946.2 1405.6,944.2 C1409.6,942.3 1413.6,940.3 1417.6,938.4 C1421.6,936.5 1425.6,934.6 1429.6,932.6 C1433.6,930.7 1437.6,928.8 1441.6,926.8 C1445.6,924.9 1449.6,923.0 1453.6,921.0 C1457.6,919.0 1461.6,917.0 1465.6,914.9 C1469.6,912.9 1473.6,910.8 1477.6,908.7 C1481.6,906.5 1485.6,904.4 1489.6,902.2 C1493.6,900.1 1497.6,897.9 1501.6,895.7 C1505.6,893.6 1509.6,891.4 1513.6,889.3 C1517.6,887.2 1521.6,885.2 1525.6,883.1 C1529.6,881.1 1533.6,879.2 1537.6,877.2 C1541.6,875.3 1545.6,873.4 1549.6,871.6 C1553.6,869.7 1557.6,867.9 1561.6,866.0 C1565.6,864.1 1569.6,862.3 1573.6,860.4 C1577.6,858.5 1581.6,856.6 1585.6,854.7 C1589.6,852.7 1593.6,850.7 1597.6,848.5 C1601.6,846.4 1605.6,844.2 1609.6,841.9 C1613.6,839.5 1617.6,837.0 1621.6,834.4 C1625.6,831.7 1629.6,828.9 1633.6,826.1 C1637.6,823.2 1641.6,820.2 1645.6,817.3 C1649.6,814.4 1653.6,811.4 1657.6,808.5 C1661.6,805.6 1665.6,802.8 1669.6,800.1 C1673.6,797.4 1677.6,794.8 1681.6,792.4 C1685.6,790.0 1689.6,787.8 1693.6,785.7 C1697.6,783.5 1701.6,781.6 1705.6,779.6 C1709.6,777.6 1713.6,775.8 1717.6,773.9 C1721.6,772.0 1725.6,770.2 1729.6,768.3 C1733.6,766.4 1737.6,764.5 1741.6,762.5 C1745.6,760.4 1749.6,758.3 1753.6,755.9 C1757.6,753.6 1761.6,751.0 1765.6,748.3 C1769.6,745.6 1773.6,742.7 1777.6,739.7 C1781.6,736.8 1785.6,733.7 1789.6,730.6 C1793.6,727.6 1797.6,724.4 1801.6,721.5 C1805.6,718.5 1809.6,715.5 1813.6,712.7 C1817.6,710.0 1821.6,707.4 1825.6,705.0 C1829.6,702.5 1833.6,700.3 1837.6,698.2 C1841.6,696.0 1845.6,694.0 1849.6,691.9 C1853.6,689.8 1857.6,687.8 1861.6,685.7 C1865.6,683.6 1869.6,681.5 1873.6,679.4 C1877.6,677.2 1881.6,675.1 1885.6,672.9 C1889.6,670.7 1893.6,668.4 1897.6,666.2 C1901.6,664.0 1905.6,661.7 1909.6,659.4 C1913.6,657.2 1917.6,654.9 1921.6,652.5 C1925.6,650.2 1929.6,647.9 1933.6,645.6 C1937.6,643.2 1941.6,640.9 1945.6,638.5 C1949.6,636.1 1953.6,633.7 1957.6,631.3 C1961.6,628.9 1965.6,626.5 1969.6,624.0 C1973.6,621.6 1977.6,619.2 1981.6,616.7 C1985.6,614.3 1989.6,611.8 1993.6,609.3 C1997.6,606.8 2001.6,604.3 2005.6,601.8 C2009.6,599.3 2013.6,596.8 2017.6,594.3 C2021.6,591.8 2025.6,589.2 2029.6,586.7 C2033.6,584.2 2037.6,581.6 2041.6,579.1 C2045.6,576.5 2049.6,573.9 2053.6,571.4 C2057.6,568.8 2061.6,566.2 2065.6,563.6 C2069.6,561.1 2073.6,558.5 2077.6,555.9 C2081.6,553.3 2085.6,550.7 2089.6,548.1 C2093.6,545.5 2097.6,542.9 2101.6,540.3 C2105.6,537.7 2109.6,535.1 2113.6,532.5 C2117.6,529.9 2121.6,527.3 2125.6,524.7 C2129.6,522.1 2133.6,519.4 2137.6,516.8 C2141.6,514.2 2145.6,511.6 2149.6,509.0 C2153.6,506.4 2157.6,503.8 2161.6,501.2 C2165.6,498.6 2169.6,496.0 2173.6,493.4 C2177.6,490.8 2181.6,488.2 2185.6,485.6 C2189.6,483.0 2193.6,480.4 2197.6,477.8 C2201.6,475.3 2205.6,472.7 2209.6,470.1 C2213.6,467.5 2219.1,464.0 2221.6,462.4 C2224.1,460.8 2224.1,460.8 2224.6,460.5" stroke="#7030a0"/></g>
<rect x="505.6" y="71.7" width="872" height="454.6" fill="#fff" stroke="#000" stroke-width="2.9"/><g stroke-width="14" stroke-linecap="round" fill="none"><line x1="589" x2="677" y1="147.9" y2="147.9" stroke="#9bbb59"/><line x1="589" x2="677" y1="299" y2="299" stroke="#0070c0"/><line x1="589" x2="677" y1="450.8" y2="450.8" stroke="#7030a0"/></g>
<g font-family='"Liberation Sans", "Noto Sans CJK JP", sans-serif' fill="#000"><text xml:space="preserve"><tspan x="95.95" y="95.40" font-size="98.13" textLength="59.96" lengthAdjust="spacingAndGlyphs">1</tspan><tspan x="147.46" y="90.17" font-size="91.20" textLength="28.23" lengthAdjust="spacingAndGlyphs">,</tspan><tspan x="180.28" y="94.39" font-size="96.70" textLength="55.62" lengthAdjust="spacingAndGlyphs">0</tspan><tspan x="242.18" y="94.39" font-size="96.70" textLength="55.62" lengthAdjust="spacingAndGlyphs">0</tspan><tspan x="305.69" y="94.39" font-size="96.70" textLength="55.28" lengthAdjust="spacingAndGlyphs">0</tspan></text>
<text xml:space="preserve"><tspan x="184.01" y="587.10" font-size="98.13" textLength="60.19" lengthAdjust="spacingAndGlyphs">1</tspan><tspan x="242.18" y="586.09" font-size="96.70" textLength="55.62" lengthAdjust="spacingAndGlyphs">0</tspan><tspan x="305.69" y="586.09" font-size="96.70" textLength="55.28" lengthAdjust="spacingAndGlyphs">0</tspan></text>
<text xml:space="preserve"><tspan x="247.49" y="1079.80" font-size="97.42" textLength="58.59" lengthAdjust="spacingAndGlyphs">1</tspan><tspan x="305.07" y="1078.80" font-size="96.00" textLength="55.62" lengthAdjust="spacingAndGlyphs">0</tspan></text>
<text xml:space="preserve"><tspan x="309.75" y="1571.90" font-size="97.56" textLength="58.82" lengthAdjust="spacingAndGlyphs">1</tspan></text>
<text xml:space="preserve"><tspan x="414.99" y="1661.80" font-size="97.56" textLength="58.59" lengthAdjust="spacingAndGlyphs">1</tspan></text>
<text xml:space="preserve"><tspan x="1423.35" y="1661.80" font-size="97.42" textLength="58.82" lengthAdjust="spacingAndGlyphs">1</tspan><tspan x="1481.06" y="1660.80" font-size="96.00" textLength="55.84" lengthAdjust="spacingAndGlyphs">0</tspan></text>
<text xml:space="preserve"><tspan x="2431.75" y="1661.80" font-size="97.42" textLength="58.82" lengthAdjust="spacingAndGlyphs">1</tspan><tspan x="2489.76" y="1660.80" font-size="96.00" textLength="55.84" lengthAdjust="spacingAndGlyphs">0</tspan><tspan x="2552.84" y="1660.80" font-size="96.00" textLength="56.28" lengthAdjust="spacingAndGlyphs">0</tspan></text>
<text xml:space="preserve"><tspan x="685.36" y="181.20" font-size="96.28" textLength="81.42" lengthAdjust="spacingAndGlyphs" stroke="#fff" stroke-width="0.9" stroke-linejoin="round">M</tspan><tspan x="767.31" y="181.20" font-size="96.28" textLength="67.40" lengthAdjust="spacingAndGlyphs" stroke="#fff" stroke-width="0.9" stroke-linejoin="round">H</tspan><tspan x="836.47" y="181.20" font-size="97.71" textLength="57.31" lengthAdjust="spacingAndGlyphs" stroke="#fff" stroke-width="0.9" stroke-linejoin="round">2</tspan><tspan x="900.53" y="180.68" font-size="96.97" textLength="56.38" lengthAdjust="spacingAndGlyphs" stroke="#fff" stroke-width="0.9" stroke-linejoin="round">3</tspan><tspan x="960.53" y="181.20" font-size="96.28" textLength="67.19" lengthAdjust="spacingAndGlyphs" stroke="#fff" stroke-width="0.9" stroke-linejoin="round">D</tspan><tspan> </tspan><tspan x="1052.95" y="182.74" font-size="92.05" textLength="90.00" lengthAdjust="spacingAndGlyphs">※</tspan><tspan x="1136.57" y="180.90" font-size="97.28" textLength="58.13" lengthAdjust="spacingAndGlyphs" stroke="#fff" stroke-width="0.9" stroke-linejoin="round">1</tspan></text>
<text xml:space="preserve"><tspan x="685.36" y="331.80" font-size="95.86" textLength="81.42" lengthAdjust="spacingAndGlyphs" stroke="#fff" stroke-width="0.9" stroke-linejoin="round">M</tspan><tspan x="767.31" y="331.80" font-size="95.86" textLength="67.40" lengthAdjust="spacingAndGlyphs" stroke="#fff" stroke-width="0.9" stroke-linejoin="round">H</tspan><tspan x="836.47" y="331.80" font-size="97.28" textLength="57.31" lengthAdjust="spacingAndGlyphs" stroke="#fff" stroke-width="0.9" stroke-linejoin="round">2</tspan><tspan x="900.63" y="331.29" font-size="96.56" textLength="54.61" lengthAdjust="spacingAndGlyphs" stroke="#fff" stroke-width="0.9" stroke-linejoin="round">0</tspan><tspan x="960.53" y="331.80" font-size="95.86" textLength="67.19" lengthAdjust="spacingAndGlyphs" stroke="#fff" stroke-width="0.9" stroke-linejoin="round">D</tspan><tspan> </tspan><tspan x="1052.95" y="333.33" font-size="91.64" textLength="90.00" lengthAdjust="spacingAndGlyphs">※</tspan><tspan x="1136.57" y="331.50" font-size="96.85" textLength="58.13" lengthAdjust="spacingAndGlyphs" stroke="#fff" stroke-width="0.9" stroke-linejoin="round">1</tspan></text>
<text xml:space="preserve"><tspan x="685.06" y="496.00" font-size="95.43" textLength="81.42" lengthAdjust="spacingAndGlyphs" stroke="#fff" stroke-width="0.9" stroke-linejoin="round">M</tspan><tspan x="766.98" y="496.00" font-size="95.43" textLength="67.66" lengthAdjust="spacingAndGlyphs" stroke="#fff" stroke-width="0.9" stroke-linejoin="round">H</tspan><tspan x="836.99" y="483.87" font-size="72.53" textLength="35.23" lengthAdjust="spacingAndGlyphs">-</tspan><tspan x="877.27" y="496.00" font-size="97.56" textLength="56.12" lengthAdjust="spacingAndGlyphs" stroke="#fff" stroke-width="0.9" stroke-linejoin="round">2</tspan><tspan x="939.29" y="495.78" font-size="97.25" textLength="55.28" lengthAdjust="spacingAndGlyphs" stroke="#fff" stroke-width="0.9" stroke-linejoin="round">0</tspan><tspan x="1002.67" y="495.78" font-size="97.25" textLength="55.73" lengthAdjust="spacingAndGlyphs" stroke="#fff" stroke-width="0.9" stroke-linejoin="round">0</tspan><tspan x="1065.48" y="495.78" font-size="97.25" textLength="55.50" lengthAdjust="spacingAndGlyphs" stroke="#fff" stroke-width="0.9" stroke-linejoin="round">0</tspan><tspan> </tspan><tspan x="1149.22" y="497.83" font-size="91.78" textLength="89.47" lengthAdjust="spacingAndGlyphs">※</tspan><tspan x="1238.24" y="496.00" font-size="97.56" textLength="56.48" lengthAdjust="spacingAndGlyphs" stroke="#fff" stroke-width="0.9" stroke-linejoin="round">2</tspan></text>
<text xml:space="preserve"><tspan x="505.63" y="638.11" font-size="83.74" textLength="81.33" lengthAdjust="spacingAndGlyphs" font-weight="700">※</tspan><tspan x="578.88" y="635.70" font-size="85.90" textLength="57.45" lengthAdjust="spacingAndGlyphs" stroke="#000" stroke-width="1.5" stroke-linejoin="round">1</tspan><tspan> </tspan><tspan x="678.41" y="631.73" font-size="68.34" textLength="438.94" lengthAdjust="spacingAndGlyphs" font-weight="700" stroke="#fff" stroke-width="0.8" stroke-linejoin="round">型潤滑成形用</tspan></text>
<text xml:space="preserve"><tspan x="505.63" y="725.80" font-size="83.06" textLength="81.33" lengthAdjust="spacingAndGlyphs" font-weight="700">※</tspan><tspan x="585.05" y="723.50" font-size="86.04" textLength="51.61" lengthAdjust="spacingAndGlyphs" stroke="#000" stroke-width="1.5" stroke-linejoin="round">2</tspan><tspan> </tspan><tspan x="687.79" y="720.70" font-size="69.47" textLength="511.87" lengthAdjust="spacingAndGlyphs" font-weight="700" stroke="#fff" stroke-width="0.8" stroke-linejoin="round">内部潤滑成形用</tspan></text>
<text xml:space="preserve"><tspan x="1611.96" y="1517.32" font-size="71.24" textLength="291.01" lengthAdjust="spacingAndGlyphs" font-weight="700" stroke="#fff" stroke-width="0.8" stroke-linejoin="round">焼鈍条件</tspan><tspan x="1895.93" y="1513.40" font-size="60.65" textLength="53.94" lengthAdjust="spacingAndGlyphs" font-weight="700">：</tspan><tspan x="1942.58" y="1518.64" font-size="86.96" textLength="164.27" lengthAdjust="spacingAndGlyphs" stroke="#000" stroke-width="1.6" stroke-linejoin="round">600</tspan><tspan x="2107.61" y="1519.24" font-size="80.94" textLength="73.17" lengthAdjust="spacingAndGlyphs" font-weight="500">℃</tspan><tspan x="2184.74" y="1523.23" font-size="99.97" textLength="56.58" lengthAdjust="spacingAndGlyphs" stroke="#000" stroke-width="1.5" stroke-linejoin="round">×</tspan><tspan x="2243.91" y="1518.64" font-size="86.96" textLength="109.85" lengthAdjust="spacingAndGlyphs" stroke="#000" stroke-width="1.6" stroke-linejoin="round">30</tspan><tspan x="2355.27" y="1519.50" font-size="84.56" textLength="145.08" lengthAdjust="spacingAndGlyphs" stroke="#000" stroke-width="1.6" stroke-linejoin="round">min</tspan></text>
<text xml:space="preserve"><tspan x="1163.79" y="1781.58" font-size="106.22" textLength="328.32" lengthAdjust="spacingAndGlyphs" font-weight="700" stroke="#fff" stroke-width="1.2" stroke-linejoin="round">周波数</tspan><tspan x="1439.62" y="1781.59" font-size="106.16" textLength="101.76" lengthAdjust="spacingAndGlyphs" font-weight="700">（</tspan><tspan x="1550.38" y="1785.20" font-size="125.55" textLength="225.28" lengthAdjust="spacingAndGlyphs" font-weight="700" stroke="#fff" stroke-width="2" stroke-linejoin="round">kHz</tspan><tspan x="1781.82" y="1781.59" font-size="106.16" textLength="104.96" lengthAdjust="spacingAndGlyphs" font-weight="700">）</tspan></text>
<text xml:space="preserve"><tspan x="702.84" y="1936.53" font-size="95.66" textLength="92.92" lengthAdjust="spacingAndGlyphs">図</tspan><tspan>　</tspan><tspan x="855.77" y="1935.23" font-size="93.55" textLength="366.46" lengthAdjust="spacingAndGlyphs">鉄粉商品</tspan><tspan x="1164.58" y="1934.10" font-size="90.53" textLength="100.98" lengthAdjust="spacingAndGlyphs">（</tspan><tspan x="1266.43" y="1935.23" font-size="93.55" textLength="461.86" lengthAdjust="spacingAndGlyphs">高周波用途</tspan><tspan x="1729.94" y="1934.10" font-size="90.53" textLength="97.78" lengthAdjust="spacingAndGlyphs">）</tspan><tspan x="1770.80" y="1935.23" font-size="93.55" textLength="276.65" lengthAdjust="spacingAndGlyphs">の鉄損</tspan></text>
<text transform="rotate(-90)" xml:space="preserve"><tspan x="-1199.40" y="120.31" font-size="110.79" textLength="218.81" lengthAdjust="spacingAndGlyphs" font-weight="700" stroke="#fff" stroke-width="1.2" stroke-linejoin="round">鉄損</tspan><tspan x="-1003.50" y="118.30" font-size="106.97" textLength="112.00" lengthAdjust="spacingAndGlyphs" font-weight="700">（</tspan><tspan x="-887.80" y="123.00" font-size="128.14" textLength="107.94" lengthAdjust="spacingAndGlyphs" font-weight="700" stroke="#fff" stroke-width="2" stroke-linejoin="round">W</tspan><tspan x="-794.42" y="112.87" font-size="91.48" textLength="86.04" lengthAdjust="spacingAndGlyphs" font-weight="700">・</tspan><tspan x="-721.46" y="122.80" font-size="128.54" textLength="143.11" lengthAdjust="spacingAndGlyphs" font-weight="700" stroke="#fff" stroke-width="2" stroke-linejoin="round">kg</tspan><tspan x="-573.05" y="101.47" font-size="80.36" textLength="46.39" lengthAdjust="spacingAndGlyphs" font-weight="700">-</tspan><tspan x="-523.62" y="122.80" font-size="130.70" textLength="68.87" lengthAdjust="spacingAndGlyphs" font-weight="700" stroke="#fff" stroke-width="2" stroke-linejoin="round">1</tspan><tspan x="-449.70" y="118.30" font-size="106.97" textLength="108.80" lengthAdjust="spacingAndGlyphs" font-weight="700">）</tspan></text></g>
</svg>
</body></html>
